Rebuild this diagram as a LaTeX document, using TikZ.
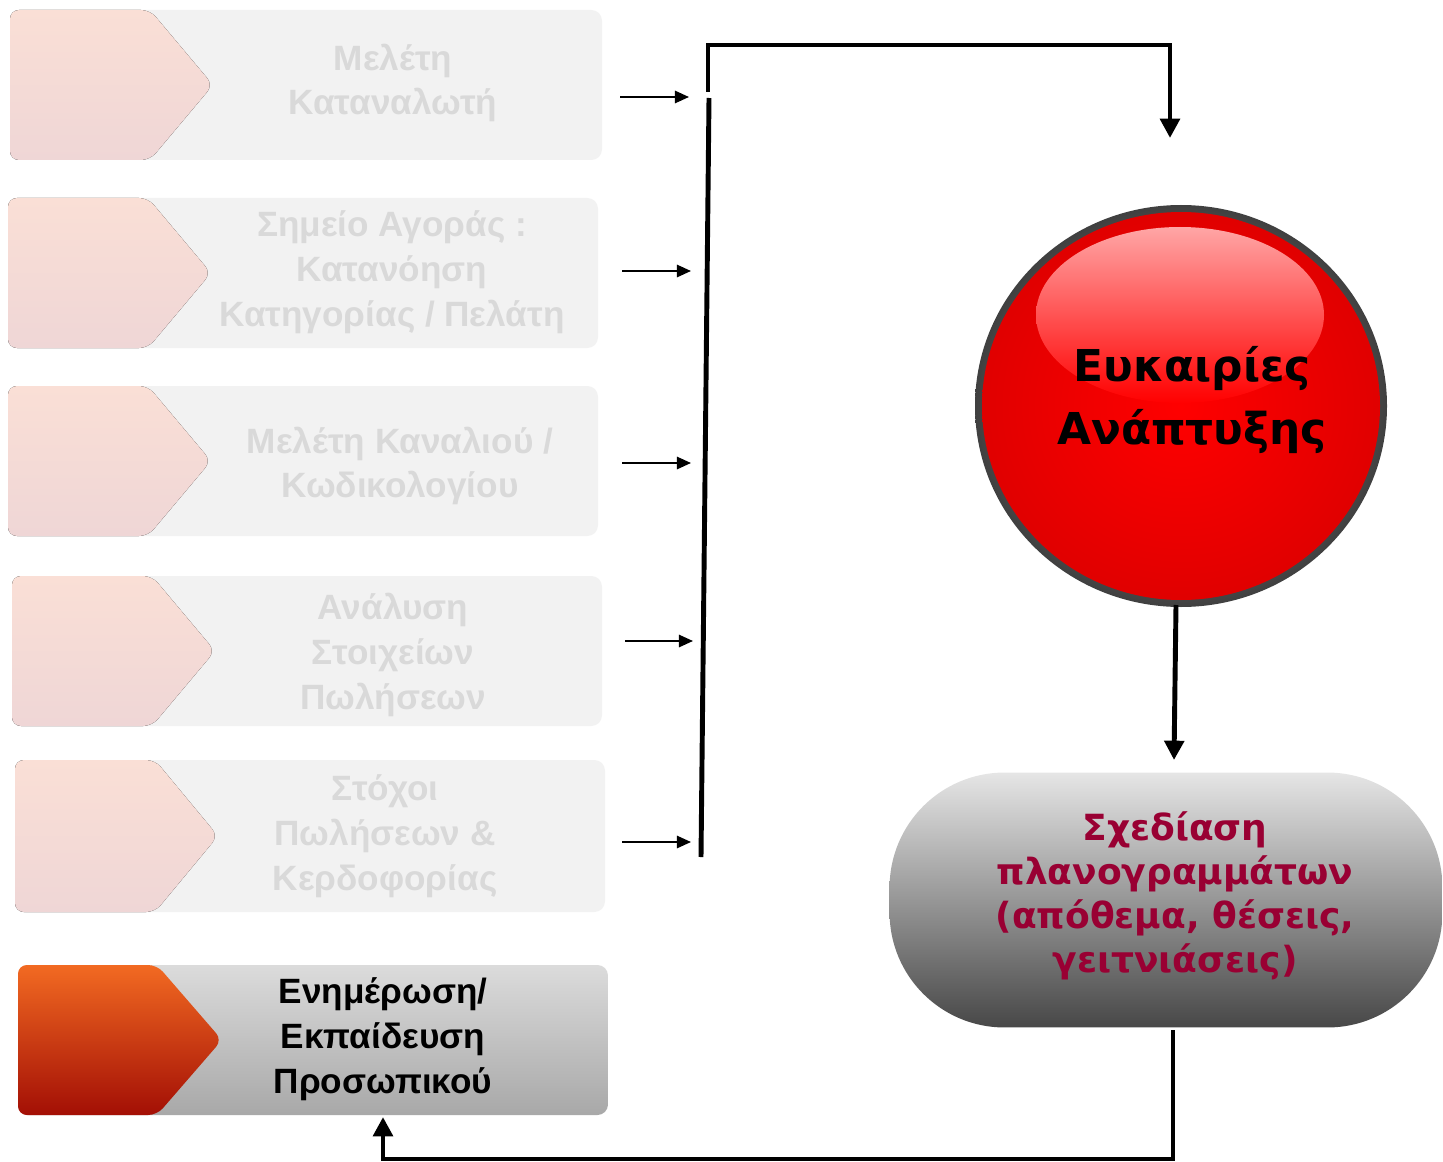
\documentclass[tikz,border=0pt]{standalone}
\usepackage{fontspec}
\setmainfont{Liberation Sans}
\newfontfamily\pillfont{DejaVu Sans}
\usetikzlibrary{arrows.meta}
\definecolor{fadetext}{HTML}{D9D9D9}
\definecolor{fadebody}{HTML}{F2F2F2}
\definecolor{chevtop}{HTML}{FADFD6}
\definecolor{chevbot}{HTML}{EFD6D6}
\definecolor{hotop}{HTML}{F26A22}
\definecolor{hobot}{HTML}{A30F05}
\definecolor{plantext}{HTML}{990033}
\tikzset{
  fadebox/.style={fill=fadebody,rounded corners=6},
  fadechev/.style={top color=chevtop,bottom color=chevbot,rounded corners=5},
  fadelabel/.style={text=fadetext,align=center,font=\bfseries\fontsize{20}{25.5}\selectfont},
  feed/.style={line width=1.1pt,-{Triangle[length=8pt,width=7pt]}},
  flow/.style={line width=2.8pt},
  flowarrow/.style={flow,-{Triangle[length=11pt,width=11pt]}}
}
\begin{document}
\begin{tikzpicture}[x=0.02cm,y=-0.02cm]
  \useasboundingbox (0,0) rectangle (1443,1162);
  % faded stages
  \fill[fadebox] (10,10) rectangle (602,160);
  \fill[fadechev] (10,10) -- (150,10) -- (213,85) -- (150,160) -- (10,160) -- cycle;
  \node[fadelabel] (s1) at (393,83) {Μελέτη\\Καταναλωτή};
  \fill[fadebox] (8,198) rectangle (598,348);
  \fill[fadechev] (8,198) -- (148,198) -- (211,273) -- (148,348) -- (8,348) -- cycle;
  \node[fadelabel] (s2) at (392,272) {Σημείο Αγοράς :\\Κατανόηση\\Κατηγορίας / Πελάτη};
  \fill[fadebox] (8,386) rectangle (598,536);
  \fill[fadechev] (8,386) -- (148,386) -- (211,461) -- (148,536) -- (8,536) -- cycle;
  \node[fadelabel] (s3) at (400,466) {Μελέτη Καναλιού /\\Κωδικολογίου};
  \fill[fadebox] (12,576) rectangle (602,726);
  \fill[fadechev] (12,576) -- (152,576) -- (215,651) -- (152,726) -- (12,726) -- cycle;
  \node[fadelabel] (s4) at (393,655) {Ανάλυση\\Στοιχείων\\Πωλήσεων};
  \fill[fadebox] (15,760) rectangle (605,912);
  \fill[fadechev] (15,760) -- (155,760) -- (218,836) -- (155,912) -- (15,912) -- cycle;
  \node[fadelabel] (s5) at (385,836) {Στόχοι\\Πωλήσεων \&\\Κερδοφορίας};
  % active stage
  \shade[top color=black!14,bottom color=black!34,rounded corners=6] (18,965) rectangle (608,1115);
  \shade[top color=hotop,bottom color=hobot,rounded corners=5] (18,965) -- (157,965) -- (222,1040) -- (157,1115) -- (18,1115) -- cycle;
  \node[align=center,font=\bfseries\fontsize{20}{25.5}\selectfont] (train) at (383,1039) {Ενημέρωση/\\Εκπαίδευση\\Προσωπικού};
  \coordinate (trainbot) at (383,1117);
  % feed arrows into the bus
  \coordinate (f1) at (620,97);  \coordinate (g1) at (689,97);
  \coordinate (f2) at (622,271); \coordinate (g2) at (691,271);
  \coordinate (f3) at (622,463); \coordinate (g3) at (691,463);
  \coordinate (f4) at (625,641); \coordinate (g4) at (693,641);
  \coordinate (f5) at (622,842); \coordinate (g5) at (691,842);
  \foreach \i in {1,...,5}
    \draw[feed] (f\i) -- (g\i);
  \coordinate (busbot) at (701,857);
  \coordinate (bustop) at (709,98);
  \draw[flow] (busbot) -- (bustop);
  \coordinate (loopstart) at (708,92);
  \coordinate (opsin) at (1170,138);
  \draw[flowarrow] (loopstart) |- (1170,45) -- (opsin);
  % opportunities button
  \node[circle,minimum size=8.1cm,inner sep=0pt] (ops) at (1181,406) {};
  \shade[inner color=black!25,outer color=black!75] (ops) ellipse[x radius=206,y radius=201];
  \shade[inner color=red,outer color=red!88!black] (ops) ellipse[x radius=199,y radius=194];
  \shade[top color=red!35!white,bottom color=red] (1180,315) ellipse[x radius=144,y radius=88];
  \node[align=center,font=\pillfont\bfseries\fontsize{25}{36}\selectfont] (opslabel) at (1192,400) {Ευκαιρίες\\Ανάπτυξης};
  % planogram design
  \node[rectangle,rounded corners=2.3cm,minimum width=11.06cm,minimum height=5.1cm,
        top color=black!10,middle color=black!38,bottom color=black!72] (plan) at (1166,900) {};
  \node[align=center,text=plantext,font=\pillfont\bfseries\fontsize{20.5}{25}\selectfont] (planlabel) at (1175,896)
    {Σχεδίαση\\πλανογραμμάτων\\(απόθεμα, θέσεις,\\γειτνιάσεις)};
  \coordinate (opsout) at (1176,605);
  \coordinate (planin) at (1174,760);
  \draw[flowarrow] (opsout) -- (planin);
  \coordinate (planout) at (1173,1030);
  \draw[flowarrow] (planout) -- (1173,1159) -| (trainbot);
\end{tikzpicture}
\end{document}
